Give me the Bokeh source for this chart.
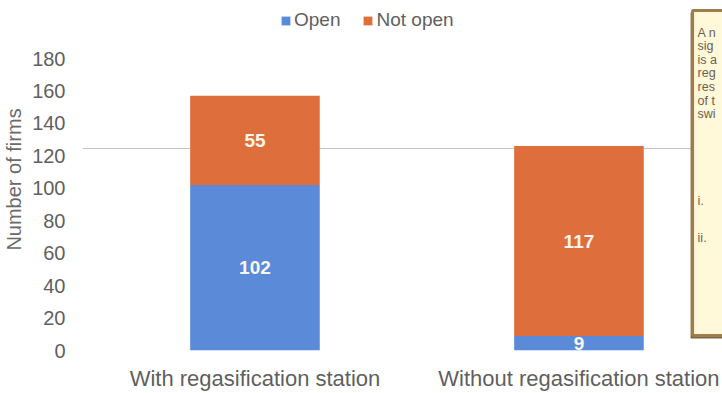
from bokeh.plotting import figure
from bokeh.models import (ColumnDataSource, Range1d, FixedTicker, LabelSet,
                          Legend, BoxAnnotation, Span)
from bokeh.core.properties import value
from bokeh.embed import file_html
from bokeh.resources import INLINE

# ---- data ----
categories = ["With regasification station", "Without regasification station"]
series = ["Open", "Not open"]
open_firms = [102, 9]
not_open_firms = [55, 117]
y_ticks = [0, 20, 40, 60, 80, 100, 120, 140, 160, 180]
note_lines = ["A n", "sig", "is a", "reg", "res", "of t", "swi"]
note_items = ["i.", "ii."]

colors = ["#5b8ad8", "#de6f3c"]
FONT = "Liberation Sans"

W, H = 722, 393
FL, FR, FT, FB = 80, 722, 8, 350          # frame edges in px
XPX = 325.0                                # px per category step
X0 = -(253 - FL) / XPX                     # x value at the frame left
X1 = X0 + (FR - FL) / XPX
YPX = (350 - 58) / 180.0                   # px per unit
Y1 = (FB - FT) / YPX

def px_x(px):
    return X0 + (px - FL) / XPX

def px_y(py):
    return (FB - py) / YPX

xs = list(range(len(categories)))
src = ColumnDataSource(dict(x=xs, Open=open_firms, **{"Not open": not_open_firms}))

p = figure(width=W, height=H, output_backend="svg", toolbar_location=None,
           x_range=Range1d(X0, X1), y_range=Range1d(0, Y1),
           min_border_left=FL, min_border_right=0, min_border_top=FT,
           min_border_bottom=H - FB)
p.outline_line_color = None
p.background_fill_color = "white"
p.border_fill_color = "white"
p.grid.visible = False

# scan artefact line
p.add_layout(Span(location=px_y(148), dimension="width", line_color="#c4c4c4",
                  line_width=1.2, level="underlay"))

r = p.vbar_stack(series, x="x", width=130 / XPX, color=colors, source=src,
                 line_color=None)

# value labels centred in each segment
lab_x, lab_y, lab_t = [], [], []
for i in xs:
    lab_x += [i, i]
    lab_y += [open_firms[i] / 2, open_firms[i] + not_open_firms[i] / 2]
    lab_t += [str(open_firms[i]), str(not_open_firms[i])]
lab_y[2] = max(lab_y[2], 4.0)
lsrc = ColumnDataSource(dict(x=lab_x, y=lab_y, t=lab_t))
p.add_layout(LabelSet(x="x", y="y", text="t", source=lsrc, text_align="center",
                      text_baseline="middle", text_color="#fbf6ee",
                      text_font=value(FONT), text_font_size="19px",
                      text_font_style="bold"))

# axes
p.xaxis.ticker = FixedTicker(ticks=xs)
p.xaxis.major_label_overrides = {i: c for i, c in zip(xs, categories)}
p.yaxis.ticker = FixedTicker(ticks=y_ticks)
for ax in (p.xaxis[0], p.yaxis[0]):
    ax.axis_line_color = None
    ax.major_tick_line_color = None
    ax.minor_tick_line_color = None
    ax.major_label_text_font = FONT
    ax.major_label_text_color = "#5f5f5f"
p.xaxis.major_label_text_font_size = "22px"
p.xaxis.major_label_standoff = 9
p.yaxis.major_label_text_font_size = "20px"
p.yaxis.major_label_standoff = 11
p.yaxis.axis_label = "Number of firms"
p.yaxis.axis_label_text_font = FONT
p.yaxis.axis_label_text_font_size = "20px"
p.yaxis.axis_label_text_font_style = "normal"
p.yaxis.axis_label_text_color = "#6a6a6a"
p.yaxis.axis_label_standoff = 4

# legend
legend = Legend(items=[(s, [rr]) for s, rr in zip(series, r)],
                orientation="horizontal", location=(198, 319),
                label_text_font=FONT, label_text_font_size="19px",
                label_text_color="#606060", glyph_width=11, glyph_height=11,
                label_standoff=3, spacing=22, padding=0, margin=0,
                border_line_color=None, background_fill_alpha=0)
p.add_layout(legend)

# cropped note box on the right
p.add_layout(BoxAnnotation(left=px_x(690), right=px_x(760), top=px_y(12),
                           bottom=px_y(338), fill_color="#6e5430", fill_alpha=0.9,
                           line_color=None))
p.add_layout(BoxAnnotation(left=px_x(692), right=px_x(760), top=px_y(10),
                           bottom=px_y(335), fill_color="#fff8d9", fill_alpha=1,
                           line_color="#a07c48", line_width=3, line_alpha=1))

ny = [32 + 13.6 * k for k in range(len(note_lines))] + [200, 237]
tsrc = ColumnDataSource(dict(x=[px_x(697)] * len(ny), y=[px_y(v) for v in ny],
                             t=note_lines + note_items))
tr = p.text(x="x", y="y", text="t", source=tsrc, text_font=value(FONT),
            text_font_size="12.5px", text_color="#6a6250", text_baseline="middle",
            text_align="left")
tr.level = "overlay"

open("out.html", "w").write(file_html(p, INLINE))
